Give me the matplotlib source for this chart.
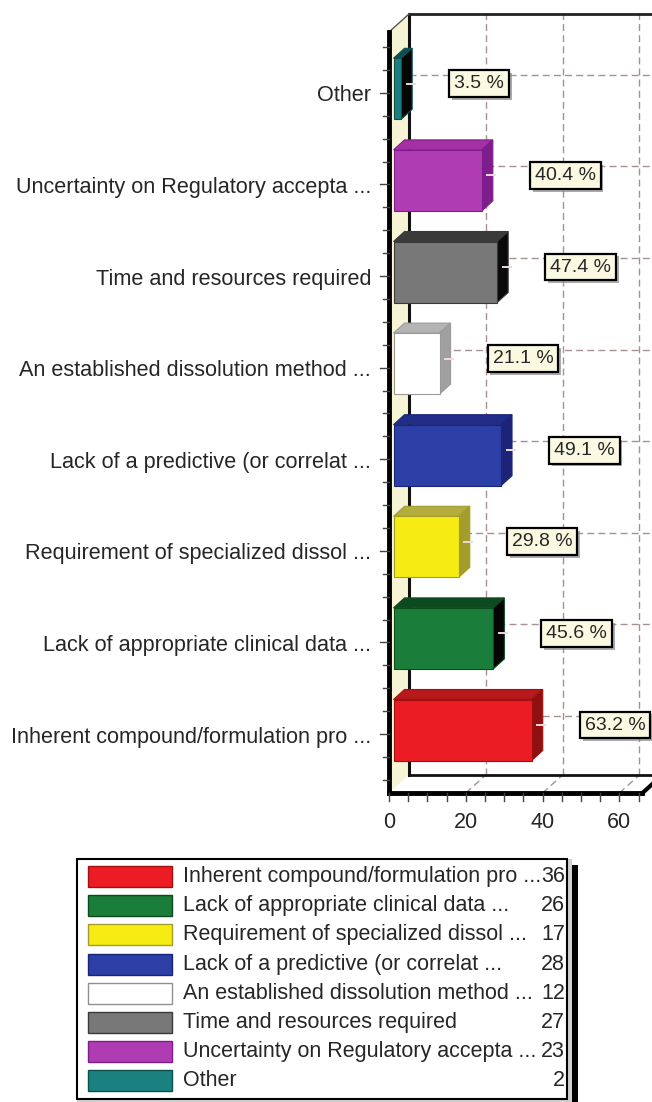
import numpy as np
import matplotlib
matplotlib.use("Agg")
import matplotlib.pyplot as plt
from matplotlib.patches import Polygon, Rectangle
import matplotlib.patheffects as pe

plt.rcParams['font.family'] = ['Liberation Sans', 'DejaVu Sans']

# ---------------------------------------------------------------- data
categories = [
    "Inherent compound/formulation pro ...",
    "Lack of appropriate clinical data ...",
    "Requirement of specialized dissol ...",
    "Lack of a predictive (or correlat ...",
    "An established dissolution method ...",
    "Time and resources required",
    "Uncertainty on Regulatory accepta ...",
    "Other",
]
counts = [36, 26, 17, 28, 12, 27, 23, 2]
percents = [63.2, 45.6, 29.8, 49.1, 21.1, 47.4, 40.4, 3.5]
x_tick_labels = [0, 20, 40, 60]

front_colors = ['#ec1c24', '#1b7d3a', '#f6ec14', '#2c3fa6',
                '#ffffff', '#787878', '#b03cb4', '#1b8080']
top_colors = ['#b81a1c', '#0e4a1f', '#b3ad3c', '#1f2d88',
              '#b4b4b4', '#3a3a3a', '#a430a6', '#0e5050']
side_colors = ['#8e1010', '#050505', '#a39d2c', '#1c2478',
               '#a0a0a0', '#0a0a0a', '#7e1e8c', '#050505']
edge_colors = ['#a01010', '#0e4a1f', '#a39d2c', '#1c2478',
               '#9a9a9a', '#3a3a3a', '#7e1e8c', '#0e5050']

# ---------------------------------------------------------------- layout
W, H = 652, 1102
fig = plt.figure(figsize=(W / 100, H / 100), dpi=100)

X0_PX = 389          # pixel column of value 0 on the front plane
PX_PER_UNIT = 3.84   # pixels per count
ROW0_PX = 734        # pixel row of the first category on the front plane
ROW_PX = 91.6        # pixels between categories
FLOOR_PX = 793
FRONT_TOP_PX = 32
AX_TOP_PX = 8

x_view = (W - X0_PX) / PX_PER_UNIT
y_min = (ROW0_PX - FLOOR_PX) / ROW_PX
y_top = (ROW0_PX - FRONT_TOP_PX) / ROW_PX
y_view = (ROW0_PX - AX_TOP_PX) / ROW_PX

ax = fig.add_axes([X0_PX / W, 1 - FLOOR_PX / H,
                   (W - X0_PX) / W, (FLOOR_PX - AX_TOP_PX) / H])
ax.set_xlim(0, x_view)
ax.set_ylim(y_min, y_view)
ax.axis('off')

px = lambda p: p / PX_PER_UNIT      # horizontal pixels -> data
py = lambda p: p / ROW_PX           # vertical pixels -> data

DX, DY = px(20), py(18)             # depth of the plot box
BDX, BDY = px(11), py(10)           # depth of each bar
OX, OY = (DX - BDX) / 2, (DY - BDY) / 2
HALF = py(30.5)
AXIS_END = 66
TEXT = '#262626'

grid_kw = dict(color='#a89090', lw=1.0, ls=(0, (5, 3)), zorder=2)

# walls and floor
ax.add_patch(Polygon([(DX, y_min + DY), (AXIS_END + DX, y_min + DY),
                      (AXIS_END + DX, y_top + DY), (DX, y_top + DY)],
                     closed=True, fc='white', ec='none', zorder=1))
ax.add_patch(Polygon([(0, y_min), (DX, y_min + DY), (DX, y_top + DY), (0, y_top)],
                     closed=True, fc='#f7f4d6', ec='none', zorder=1))
ax.add_patch(Polygon([(0, y_min), (AXIS_END, y_min),
                      (AXIS_END + DX, y_min + DY), (DX, y_min + DY)],
                     closed=True, fc='white', ec='none', zorder=1))

# grid on back wall and floor
for t in x_tick_labels[1:]:
    ax.plot([t + DX, t + DX], [y_min + DY, y_top + DY], **grid_kw)
    ax.plot([t, t + DX], [y_min, y_min + DY], **grid_kw)
for i in range(len(categories)):
    ax.plot([DX, AXIS_END + DX], [i + DY, i + DY], **grid_kw)

# back edges
ax.plot([DX, DX], [y_min + DY, y_top + DY], color='#111', lw=2.2, zorder=3)
ax.plot([DX, AXIS_END + DX], [y_min + DY, y_min + DY], color='#111', lw=2.0, zorder=3)
ax.plot([DX, AXIS_END + DX], [y_top + DY, y_top + DY], color='#222', lw=2.0,
        zorder=3, clip_on=False)
ax.plot([0, DX], [y_top, y_top + DY], color='#555', lw=1.0, zorder=3, clip_on=False)

# bars
for i, v in enumerate(counts):
    x0, yc = OX, i + OY
    ax.add_patch(Polygon([(x0, yc + HALF), (x0 + v, yc + HALF),
                          (x0 + v + BDX, yc + HALF + BDY), (x0 + BDX, yc + HALF + BDY)],
                         closed=True, fc=top_colors[i], ec=edge_colors[i], lw=0.8, zorder=4))
    ax.add_patch(Polygon([(x0 + v, yc - HALF), (x0 + v + BDX, yc - HALF + BDY),
                          (x0 + v + BDX, yc + HALF + BDY), (x0 + v, yc + HALF)],
                         closed=True, fc=side_colors[i], ec=edge_colors[i], lw=0.8, zorder=4))
    ax.add_patch(Rectangle((x0, yc - HALF), v, 2 * HALF,
                           fc=front_colors[i], ec=edge_colors[i], lw=0.8, zorder=5))
    # short leader stub and value label
    xs = x0 + v + BDX / 2
    ax.plot([xs, xs + px(8)], [i + DY / 2] * 2, color='#f2dada', lw=1.4, zorder=6)
    t = ax.text(x0 + v + px(53), i + DY / 2, f"{percents[i]:.1f} %",
                ha='left', va='center', fontsize=14, color=TEXT, zorder=7,
                bbox=dict(boxstyle='square,pad=0.25', fc='#fbf9e2', ec='black', lw=1.6))
    t.get_bbox_patch().set_path_effects(
        [pe.SimplePatchShadow(offset=(2, -2), shadow_rgbFace='#888', alpha=0.7), pe.Normal()])

# front axis lines
ax.plot([0, 0], [y_min, y_top], color='black', lw=3.5, zorder=8,
        clip_on=False, solid_capstyle='projecting')
ax.plot([0, AXIS_END], [y_min, y_min], color='black', lw=3.5, zorder=8,
        clip_on=False, solid_capstyle='projecting')
ax.plot([AXIS_END, AXIS_END + DX], [y_min, y_min + DY], color='black', lw=3.0,
        zorder=8, clip_on=False)

# left ticks and category labels
for j in range(int(np.ceil(y_min * 4)), int(np.floor(y_top * 4)) + 1):
    yv = j / 4
    length = px(9) if j % 4 == 0 else px(6)
    ax.plot([-length, 0], [yv, yv], color='#444', lw=1.0, clip_on=False, zorder=8)
for i, cat in enumerate(categories):
    ax.text(-px(18), i - py(3), cat, ha='right', va='center', fontsize=15.6, color=TEXT)

# bottom ticks and labels
for t in range(0, AXIS_END, 5):
    ax.plot([t, t], [y_min, y_min - py(8)], color='#444', lw=1.0, clip_on=False, zorder=8)
for t in x_tick_labels:
    ax.text(t, y_min - py(29), str(t), ha='center', va='center', fontsize=15.5, color=TEXT)

# ---------------------------------------------------------------- legend
lax = fig.add_axes([0, 0, 1, 1])
lax.set_xlim(0, W)
lax.set_ylim(H, 0)
lax.axis('off')

LX0, LY0, LX1, LY1 = 77, 859, 567, 1099
lax.add_patch(Rectangle((LX0 + 6, LY0 + 6), LX1 - LX0 + 5, LY1 - LY0 + 4, fc='black', ec='none'))
lax.add_patch(Rectangle((LX0, LY0), LX1 - LX0 + 5, LY1 - LY0 + 4, fc='#d0d0d0', ec='none'))
lax.add_patch(Rectangle((LX0, LY0), LX1 - LX0, LY1 - LY0, fc='white', ec='black', lw=1.5))
for j, cat in enumerate(categories):
    yc = 876.5 + 29.2 * j
    lax.add_patch(Rectangle((88, yc - 10.5), 84, 21, fc=front_colors[j],
                            ec='#909090' if front_colors[j] == '#ffffff' else edge_colors[j], lw=1.0))
    lax.text(183, yc, cat, ha='left', va='center', fontsize=15.5, color=TEXT)
    lax.text(565, yc, str(counts[j]), ha='right', va='center', fontsize=15.5, color=TEXT)

fig.savefig('out.png', dpi=100)
